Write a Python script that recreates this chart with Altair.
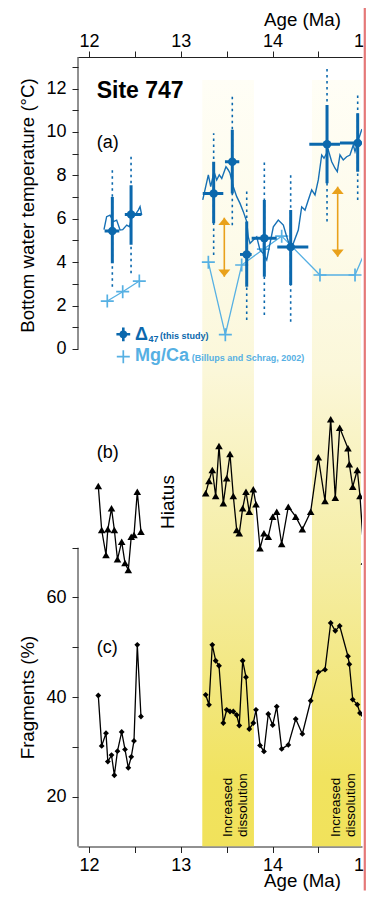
import altair as alt
import pandas as pd

# ---------------- data ----------------
# Clumped isotope (D47) temperatures with 1SE (solid) and 2SE (dotted) bars, age bars
d47_age = [12.254, 12.458, 13.358, 13.561, 13.718, 13.910, 14.197, 14.593, 14.927]
d47_T   = [5.44, 6.20, 7.17, 8.63, 4.36, 5.10, 4.70, 9.43, 9.49]
d47_lo1 = [3.95, 4.80, 5.80, 7.17, 2.87, 3.33, 2.95, 7.64, 8.17]
d47_hi1 = [7.00, 7.55, 8.63, 10.10, 5.87, 6.87, 6.40, 11.24, 10.86]
d47_lo2 = [2.87, 3.49, 4.33, 5.70, 1.34, 1.57, 1.26, 5.87, 6.87]
d47_hi2 = [8.40, 8.86, 9.94, 11.63, 7.33, 8.59, 8.17, 12.93, 11.78]
d47_alo = [12.17, 12.39, 13.239, 13.481, 13.645, 13.772, 14.051, 14.400, 14.734]
d47_ahi = [12.33, 12.57, 13.463, 13.637, 13.772, 14.045, 14.389, 14.734, 15.100]

# Mg/Ca temperatures (Billups and Schrag, 2002)
mg_age = [12.199, 12.367, 12.548, 13.300, 13.485, 13.663, 13.900, 14.099, 14.516, 14.898, 15.050]
mg_T   = [2.21, 2.64, 3.13, 4.00, 0.66, 3.87, 4.60, 5.20, 3.41, 3.41, 4.90]
mg_seg = [1, 1, 1, 2, 2, 2, 2, 2, 2, 2, 2]

# high resolution temperature record (thin blue line)
ln_age = [12.163, 12.192, 12.229, 12.265, 12.301, 12.338, 12.367, 12.411, 12.440, 12.476,
          12.501, 12.537, 12.556, 12.574,
          13.239, 13.300, 13.326, 13.362, 13.391, 13.419, 13.446, 13.492, 13.517, 13.536,
          13.572, 13.609, 13.645, 13.681, 13.718, 13.735, 13.754, 13.790, 13.827, 13.863,
          13.899, 13.936, 13.972, 14.008, 14.062, 14.117, 14.154, 14.190, 14.226, 14.280,
          14.317, 14.353, 14.389, 14.426, 14.462, 14.498, 14.535, 14.560, 14.607, 14.644,
          14.680, 14.705, 14.734, 14.770, 14.807, 14.843, 14.879, 14.898, 14.934, 14.970, 15.000]
ln_T = [5.50, 6.10, 6.17, 5.87, 5.94, 5.48, 5.50, 5.71, 5.64, 6.25,
        6.17, 6.40, 6.56, 6.17,
        6.87, 8.02, 7.48, 8.17, 7.79, 8.02, 7.86, 8.40, 8.25, 8.10,
        7.48, 7.02, 6.71, 6.33, 5.87, 5.17, 4.87, 5.02, 5.17, 4.56,
        4.40, 4.10, 4.87, 5.63, 5.94, 5.71, 5.17, 4.71, 4.87, 5.48,
        6.55, 6.40, 6.87, 7.33, 7.10, 7.79, 8.94, 8.79, 9.17, 8.63,
        8.33, 8.17, 8.94, 8.71, 8.86, 8.94, 9.40, 9.10, 9.63, 10.10, 10.00]
ln_seg = [1] * 14 + [2] * 51

# samples of panels (b) and (c)
s_age = [12.101, 12.138, 12.185, 12.205, 12.245, 12.276, 12.310, 12.356, 12.392, 12.428,
         12.460, 12.490, 12.526, 12.566,
         13.271, 13.307, 13.343, 13.380, 13.416, 13.463, 13.500, 13.536, 13.572, 13.609,
         13.637, 13.674, 13.710, 13.746, 13.790, 13.819, 13.863, 13.906, 13.953, 14.001,
         14.045, 14.099, 14.171, 14.252, 14.324, 14.415, 14.498, 14.571, 14.633, 14.683,
         14.731, 14.821, 14.836, 14.873, 14.923, 14.952, 15.000]
s_seg = [1] * 14 + [2] * 37
# panel (b) index (no axis shown, arbitrary units)
b_val = [36.05, 31.65, 29.15, 31.72, 33.82, 31.65, 28.72, 30.48, 28.35, 27.65,
         30.98, 31.15, 35.48, 31.48,
         35.32, 36.55, 37.65, 35.05, 40.05, 34.32, 36.82, 39.25, 35.05, 31.65,
         31.32, 33.82, 35.48, 33.48, 35.72, 34.22, 29.82, 31.32, 30.98, 32.98,
         33.48, 30.25, 33.98, 32.98, 31.72, 33.48, 38.92, 34.55, 42.72, 34.88,
         41.88, 39.82, 38.22, 35.98, 37.65, 35.05, 28.50]
# panel (c) fragments (%)
frag = [40.32, 30.20, 32.75, 27.05, 28.35, 24.30, 29.15, 33.00, 29.50, 25.80,
        28.00, 31.20, 50.50, 36.10,
        40.46, 38.45, 50.50, 47.30, 46.30, 34.80, 37.45, 37.10, 37.10, 36.40,
        34.30, 47.30, 44.00, 33.60, 34.80, 37.45, 30.30, 29.10, 36.60, 34.40,
        38.10, 29.60, 30.40, 35.60, 32.60, 39.26, 45.00, 45.50, 54.90, 53.30,
        54.30, 48.20, 46.60, 39.50, 38.50, 36.80, 35.50]

# offsets between D47 and Mg/Ca (orange double arrows)
arr_age = [13.474, 14.709]
arr_top = [6.05, 7.48]
arr_bot = [3.33, 4.25]

# intervals of increased dissolution
band_start = [13.234, 14.429]
band_end = [13.797, 14.963]

# axis ticks
x_ticks = [12, 12.5, 13, 13.5, 14, 14.5]
t_ticks = list(range(0, 14))
f_ticks = [20, 30, 40, 50, 60, 70]

# ---------------- frames ----------------
d47 = pd.DataFrame(dict(age=d47_age, T=d47_T, lo1=d47_lo1, hi1=d47_hi1, lo2=d47_lo2,
                        hi2=d47_hi2, alo=d47_alo, ahi=d47_ahi))
mg = pd.DataFrame(dict(age=mg_age, T=mg_T, seg=mg_seg))
ln = pd.DataFrame(dict(age=ln_age, T=ln_T, seg=ln_seg))
smp = pd.DataFrame(dict(age=s_age, seg=s_seg, b=b_val, frag=frag))
arr = pd.DataFrame(dict(age=arr_age, top=arr_top, bot=arr_bot))
bands = pd.DataFrame(dict(start=band_start, end=band_end))
t_axis_df = pd.DataFrame(dict(lo=[0], hi=[13.456]))
f_axis_df = pd.DataFrame(dict(lo=[10], hi=[70]))

DARK = "#0b68ad"
LINE = "#1670b5"
LIGHT = "#56b0e3"
ORANGE = "#e9a11b"
FONT = "Liberation Sans"

W, H = 284, 789.5
PAD = {"left": 70, "top": 49, "right": 4, "bottom": 44}
xs = alt.Scale(domain=[11.88, 14.974], nice=False, zero=False)
ts = alt.Scale(domain=[-22.926, 13.456], nice=False, zero=False)
fs = alt.Scale(domain=[10, 168.53], nice=False, zero=False)
bs = alt.Scale(domain=[0, 78.95], nice=False, zero=False)


def X(f, axis=None):
    return alt.X(f, type="quantitative", scale=xs, axis=axis)


PLUS = "M-1,0H1M0,-1V1"
HEAD_UP = "M0,0L1,1.2L-1,1.2Z"
HEAD_DN = "M0,0L1,-1.2L-1,-1.2Z"
INT_LABEL = "datum.value % 1 === 0 ? format(datum.value, 'd') : ''"

grad = alt.Gradient(
    gradient="linear", x1=0, x2=0, y1=0, y2=1,
    stops=[
        alt.GradientStop(offset=0.0, color="#fffef6"),
        alt.GradientStop(offset=0.21, color="#fdfbea"),
        alt.GradientStop(offset=0.38, color="#fbf7d9"),
        alt.GradientStop(offset=0.51, color="#f8f2bd"),
        alt.GradientStop(offset=0.64, color="#f5eda2"),
        alt.GradientStop(offset=0.81, color="#f2e67a"),
        alt.GradientStop(offset=0.91, color="#f1e35f"),
        alt.GradientStop(offset=1.0, color="#f1e25b"),
    ],
)

layers = []
layers.append(alt.Chart(bands).mark_rect(color=grad, clip=True).encode(
    x=X("start"), x2="end", y=alt.value(23), y2=alt.value(H)))
layers.append(alt.Chart(bands).transform_calculate(mid="(datum.start + datum.end) / 2").mark_text(
    text=["Increased", "dissolution"], angle=270, align="left", baseline="middle",
    fontSize=13.5, lineHeight=14.5, color="black", font=FONT).encode(
    x=X("mid"), y=alt.value(780)))

# Mg/Ca
layers.append(alt.Chart(mg).mark_line(color=LIGHT, strokeWidth=1.3, clip=True).encode(
    x=X("age"), y=alt.Y("T:Q", scale=ts, axis=None), detail="seg:N"))
layers.append(alt.Chart(mg).mark_point(shape=PLUS, size=169, filled=False, strokeWidth=1.7,
                                       color=LIGHT, opacity=1, clip=True).encode(
    x=X("age"), y=alt.Y("T:Q", scale=ts, axis=None)))

# thin blue record, carries top x axis
top_axis = alt.Axis(orient="top", values=x_ticks, labelExpr=INT_LABEL,
                    tickSize=6, labelPadding=1, grid=False, title="Age (Ma)", titleX=224, titleY=-32,
                    titleBaseline="alphabetic", titleAlign="center")
layers.append(alt.Chart(ln).mark_line(color=LINE, strokeWidth=1.4, clip=True).encode(
    x=X("age", top_axis), y=alt.Y("T:Q", scale=ts, axis=None), detail="seg:N"))

# orange arrows
layers.append(alt.Chart(arr).mark_rule(color=ORANGE, strokeWidth=1.6).encode(
    x=X("age"), y=alt.Y("bot:Q", scale=ts, axis=None), y2="top"))
layers.append(alt.Chart(arr).mark_point(shape=HEAD_UP, size=144, filled=True, color=ORANGE, opacity=1).encode(
    x=X("age"), y=alt.Y("top:Q", scale=ts, axis=None)))
layers.append(alt.Chart(arr).mark_point(shape=HEAD_DN, size=144, filled=True, color=ORANGE, opacity=1).encode(
    x=X("age"), y=alt.Y("bot:Q", scale=ts, axis=None)))

# D47 error bars and points
layers.append(alt.Chart(d47).mark_rule(color=DARK, strokeWidth=1.6, strokeDash=[2.5, 3.5], clip=True).encode(
    x=X("age"), y=alt.Y("lo2:Q", scale=ts, axis=None), y2="hi2"))
layers.append(alt.Chart(d47).mark_rule(color=DARK, strokeWidth=3, clip=True).encode(
    x=X("age"), y=alt.Y("lo1:Q", scale=ts, axis=None), y2="hi1"))
layers.append(alt.Chart(d47).mark_rule(color=DARK, strokeWidth=3, clip=True).encode(
    x=X("alo"), x2="ahi", y=alt.Y("T:Q", scale=ts, axis=None)))
t_axis = alt.Axis(orient="left", values=t_ticks, labelExpr="datum.value % 2 === 0 ? datum.label : ''",
                  domain=False, tickSize=6, labelPadding=6, grid=False,
                  title="Bottom water temperature (°C)", titleAngle=270, titleX=-45, titleY=148,
                  titleAlign="center", titleBaseline="alphabetic")
layers.append(alt.Chart(d47).mark_circle(size=72, color=DARK, opacity=1, clip=True).encode(
    x=X("age"), y=alt.Y("T:Q", scale=ts, axis=t_axis)))
layers.append(alt.Chart(t_axis_df).mark_rule(color="#222", strokeWidth=1).encode(
    x=alt.value(0), y=alt.Y("lo:Q", scale=ts, axis=None), y2="hi"))

# panel (b)
layers.append(alt.Chart(smp).mark_line(color="black", strokeWidth=1.3, clip=True).encode(
    x=X("age"), y=alt.Y("b:Q", scale=bs, axis=None), detail="seg:N"))
layers.append(alt.Chart(smp).mark_point(shape="triangle-up", size=58, filled=True, color="black",
                                        opacity=1, clip=True).encode(
    x=X("age"), y=alt.Y("b:Q", scale=bs, axis=None)))

# panel (c), carries bottom x axis and fragments axis
bot_axis = alt.Axis(orient="bottom", values=x_ticks, labelExpr=INT_LABEL,
                    tickSize=6, labelPadding=3.5, grid=False, title="Age (Ma)", titleX=224, titleY=39.5,
                    titleBaseline="alphabetic", titleAlign="center")
f_axis = alt.Axis(orient="left", values=f_ticks, labelExpr="datum.value % 20 === 0 ? datum.label : ''",
                  domain=False, tickSize=6, labelPadding=6, grid=False,
                  title="Fragments (%)", titleAngle=270, titleX=-45, titleY=640,
                  titleAlign="center", titleBaseline="alphabetic")
layers.append(alt.Chart(smp).mark_line(color="black", strokeWidth=1.3, clip=True).encode(
    x=X("age", bot_axis), y=alt.Y("frag:Q", scale=fs, axis=f_axis), detail="seg:N"))
layers.append(alt.Chart(smp).mark_point(shape="diamond", size=34, filled=True, color="black",
                                        opacity=1, clip=True).encode(
    x=X("age"), y=alt.Y("frag:Q", scale=fs, axis=None)))
layers.append(alt.Chart(f_axis_df).mark_rule(color="#222", strokeWidth=1).encode(
    x=alt.value(0), y=alt.Y("lo:Q", scale=fs, axis=None), y2="hi"))


def label(text, x, y, size, weight="normal", color="black", align="left", angle=0, baseline="alphabetic"):
    return alt.Chart(pd.DataFrame({"t": [text]})).mark_text(
        align=align, baseline=baseline, fontSize=size, fontWeight=weight, color=color,
        angle=angle, font=FONT).encode(text="t:N", x=alt.value(x), y=alt.value(y))


layers += [
    label("Site 747", 18.7, 41.3, 23, "bold"),
    label("(a)", 18.7, 91, 18),
    label("(b)", 18.7, 401, 18),
    label("(c)", 18.7, 596, 18),
    label("Hiatus", 90, 445, 19, angle=270, align="center", baseline="middle"),
    label("1", 286, -10.3, 18, align="right"),
    label("1", 286, H + 24.7, 18, align="right"),
    # legend
    label("Δ", 57, 283, 18, "bold", DARK),
    label("47", 70.5, 285, 9, "bold", DARK),
    label("(this study)", 82, 282, 9, "bold", DARK),
    label("Mg/Ca", 57, 303.5, 18, "bold", LIGHT),
    label("(Billups and Schrag, 2002)", 113.7, 303.5, 9, "bold", LIGHT),
]
layers.append(alt.Chart(pd.DataFrame({"k": ["Δ47"]})).mark_point(
    shape=PLUS, size=190, filled=False, strokeWidth=2.6, color=DARK, opacity=1).encode(
    x=alt.value(45.3), y=alt.value(277.3)))
layers.append(alt.Chart(pd.DataFrame({"k": ["Δ47"]})).mark_circle(size=60, color=DARK, opacity=1).encode(
    x=alt.value(45.3), y=alt.value(277.3)))
layers.append(alt.Chart(pd.DataFrame({"k": ["Mg/Ca"]})).mark_point(
    shape=PLUS, size=169, filled=False, strokeWidth=1.7, color=LIGHT, opacity=1).encode(
    x=alt.value(45.3), y=alt.value(299.7)))
# page frame (right edge)
layers.append(alt.Chart(pd.DataFrame({"k": [0]})).mark_rule(color="#e57878", strokeWidth=2.2).encode(
    x=alt.value(W + PAD["right"] - 1.2), y=alt.value(-PAD["top"]), y2=alt.value(H + PAD["bottom"])))

chart = (
    alt.layer(*layers)
    .properties(width=W, height=H, autosize=alt.AutoSizeParams(type="none"), padding=PAD)
    .resolve_scale(y="independent")
    .resolve_axis(x="independent", y="independent")
    .configure_view(stroke=None)
    .configure_axis(labelFont=FONT, titleFont=FONT, labelFontSize=18, titleFontSize=18.7,
                    titleFontWeight="normal", labelColor="black", titleColor="black",
                    tickColor="#222", domainColor="#222", tickWidth=1, domainWidth=1,
                    labelFlush=False, labelOverlap=False)
    .configure_text(font=FONT)
)

chart.save("out.html", embed_options={"renderer": "svg", "actions": False})
